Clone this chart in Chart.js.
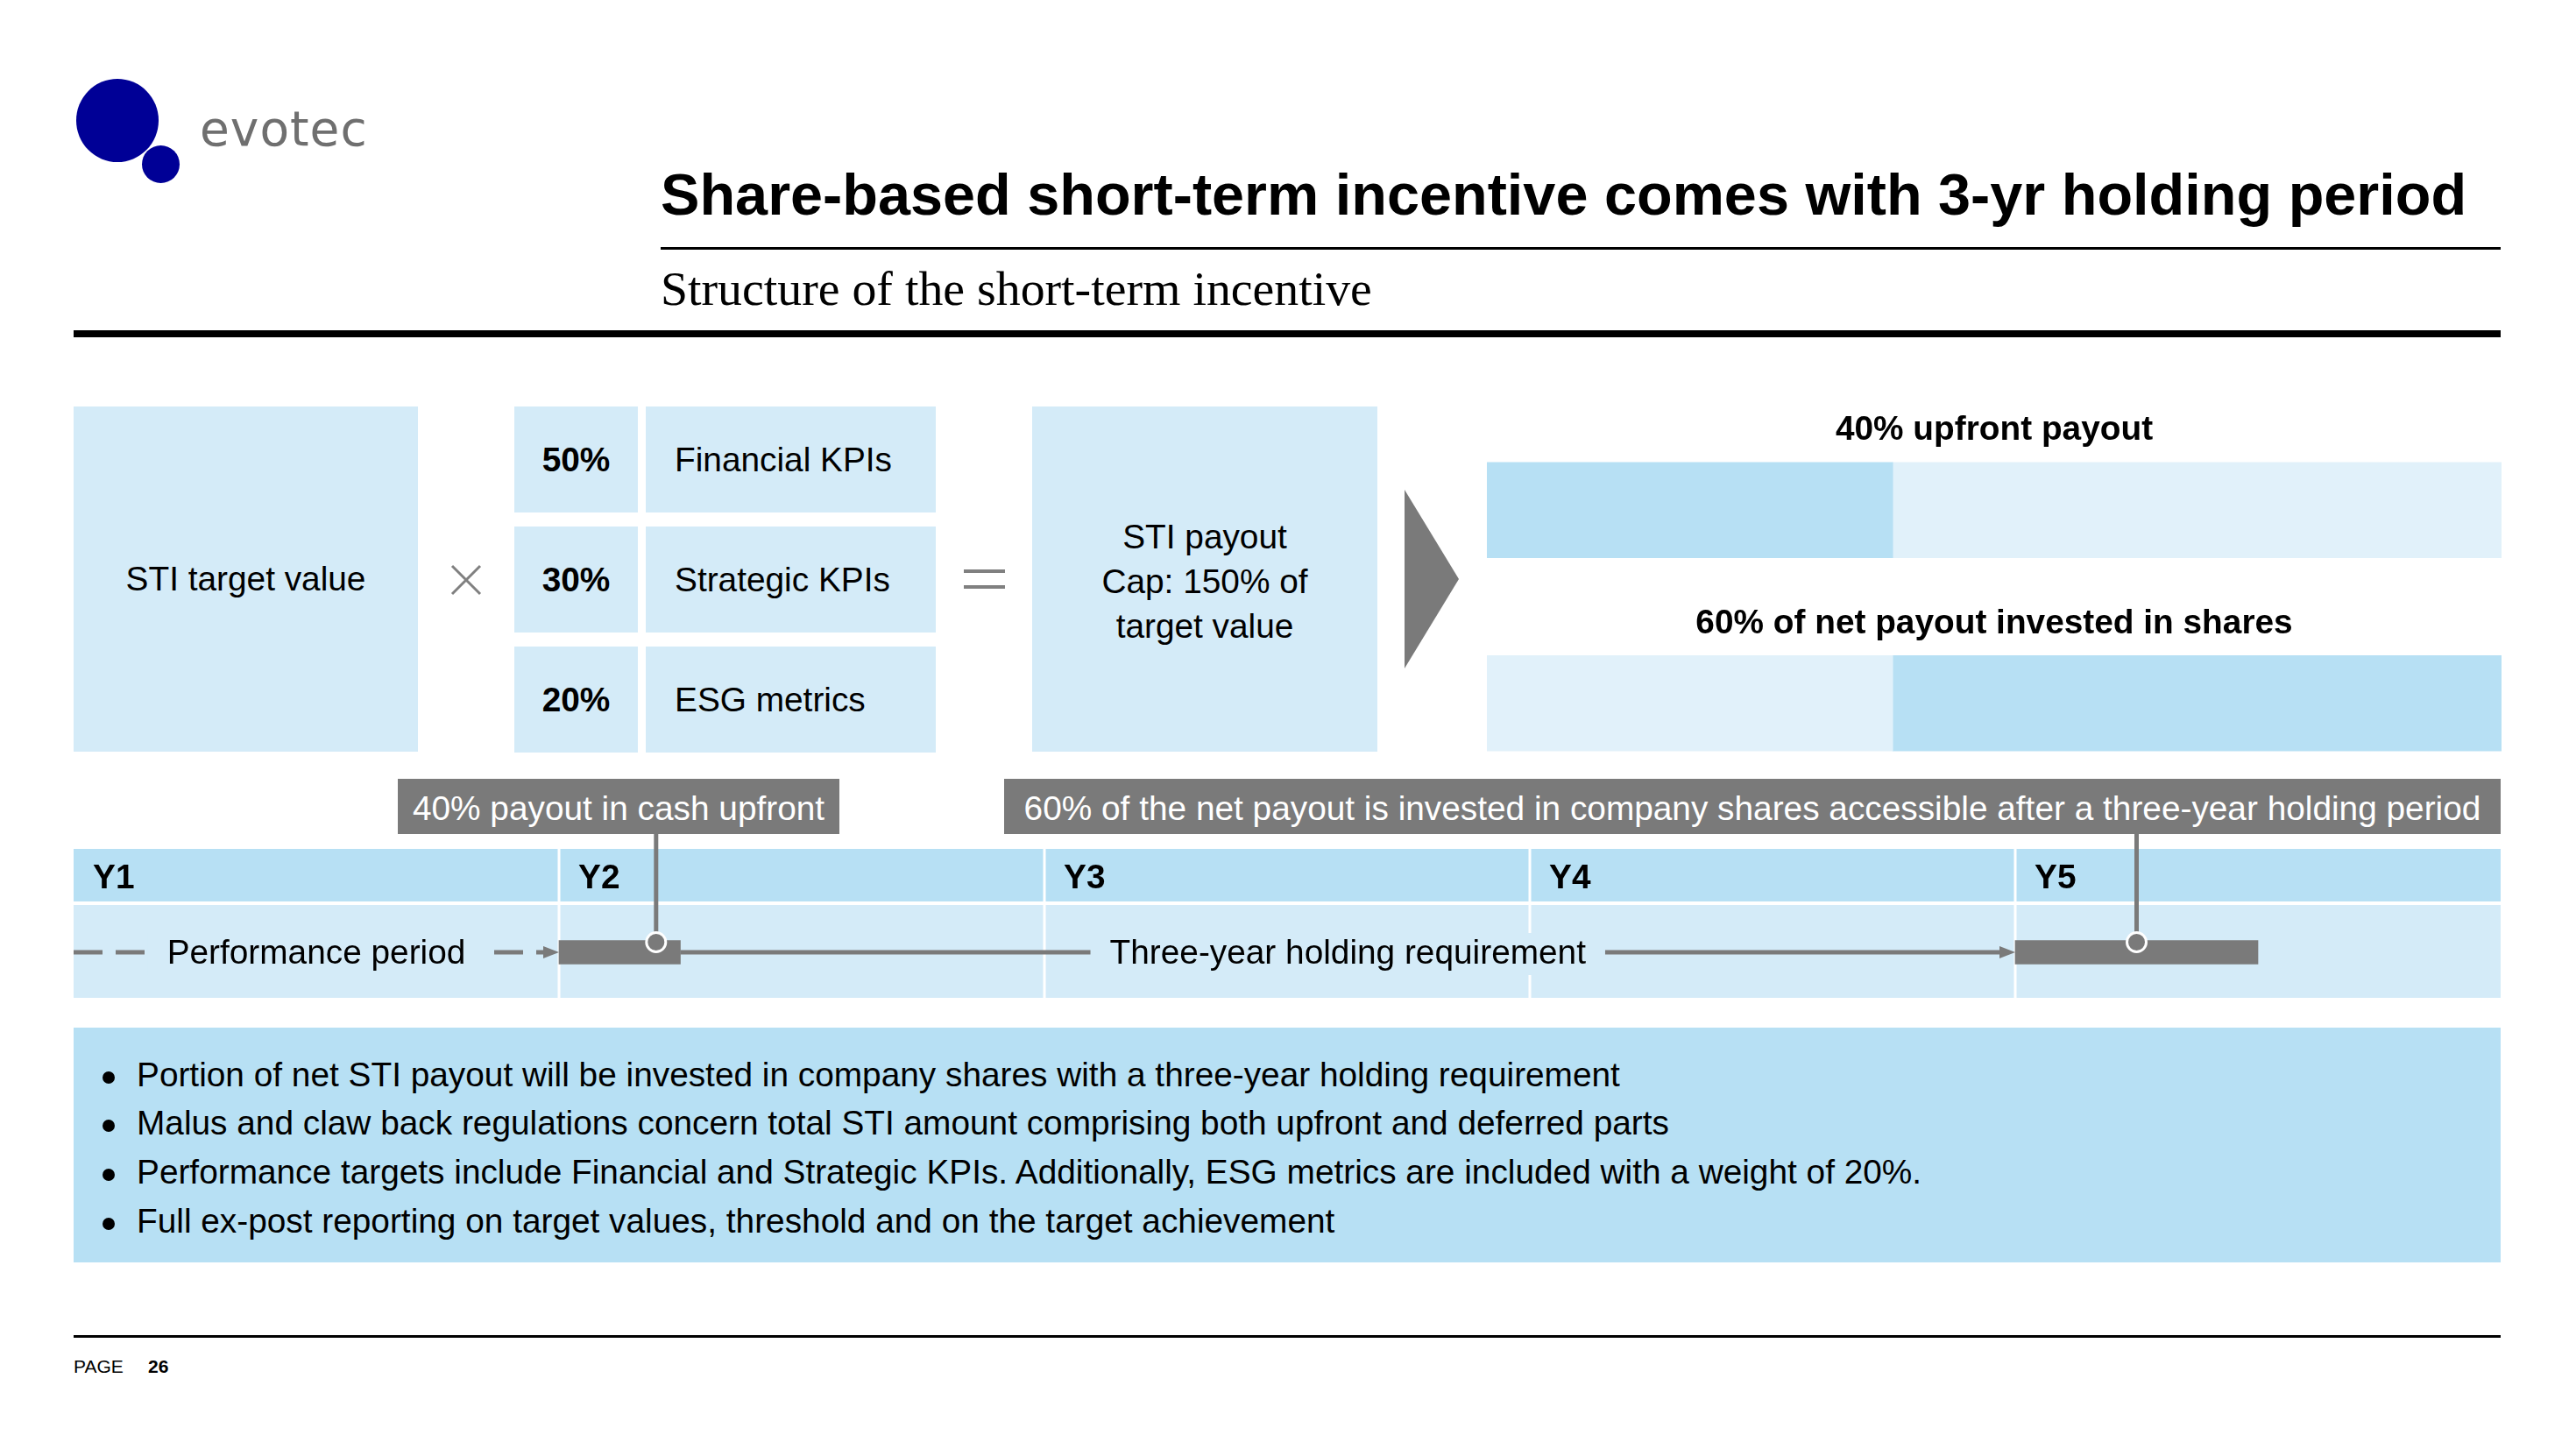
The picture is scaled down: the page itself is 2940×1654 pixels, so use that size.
<!DOCTYPE html>
<html>
<head>
<meta charset="utf-8">
<script src="https://cdn.jsdelivr.net/npm/chart.js@4.4.1/dist/chart.umd.min.js"></script>
<style>
  html, body { margin: 0; padding: 0; background: #fff; }
  body { width: 2940px; height: 1654px; position: relative; overflow: hidden; font-family: 'Liberation Sans', Arial, sans-serif; color: #000; }
  .abs { position: absolute; white-space: nowrap; }
  .box { position: absolute; background: #d4ebf8; display: flex; align-items: center; font-size: 38.8px; }
  .center { justify-content: center; text-align: center; }
  .callout { position: absolute; box-sizing: border-box; padding-top: 4px; background: #7a7a7a; color: #fff; font-size: 38.8px; display: flex; align-items: center; justify-content: center; white-space: nowrap; }
  .bullets { position: absolute; box-sizing: border-box; padding-top: 6px; left: 84px; top: 1173px; width: 2770px; height: 268px; background: #b7e0f4; display: flex; flex-direction: column; justify-content: center; }
  .bullets div { position: relative; padding-left: 72px; font-size: 38.8px; line-height: 55.7px; white-space: nowrap; }
  .bullets div::before { content: ''; position: absolute; left: 33px; top: 24px; width: 14px; height: 14px; border-radius: 50%; background: #000; }
  canvas { position: absolute; }
</style>
</head>
<body>

<!-- logo -->
<div class="abs" style="left:87px;top:90px;width:94px;height:95px;border-radius:50%;background:#000096;"></div>
<div class="abs" style="left:162px;top:166px;width:43px;height:43px;border-radius:50%;background:#000096;"></div>
<div class="abs" style="left:228px;top:120px;font-family:'DejaVu Sans',sans-serif;font-size:55px;line-height:55px;letter-spacing:1px;color:#6f6f6f;">evotec</div>

<!-- heading -->
<div class="abs" style="left:754px;top:189px;font-size:66.6px;line-height:66.6px;font-weight:bold;">Share-based short-term incentive comes with 3-yr holding period</div>
<div class="abs" style="left:754px;top:282px;width:2100px;height:3px;background:#000;"></div>
<div class="abs" style="left:754px;top:302px;font-family:'Liberation Serif',serif;font-size:55.8px;line-height:55.8px;">Structure of the short-term incentive</div>
<div class="abs" style="left:84px;top:377px;width:2770px;height:8px;background:#000;"></div>

<!-- formula row -->
<div class="box center" style="left:84px;top:464px;width:393px;height:394px;">STI target value</div>
<svg class="abs" style="left:514px;top:644px;" width="36" height="36"><path d="M2 2 L34 34 M34 2 L2 34" stroke="#808080" stroke-width="3"/></svg>
<div id="kpis"></div>
<div class="abs" style="left:1100px;top:650px;width:47px;height:4px;background:#808080;"></div>
<div class="abs" style="left:1100px;top:668px;width:47px;height:4px;background:#808080;"></div>
<div class="box center" style="left:1178px;top:464px;width:394px;height:394px;line-height:51px;padding-top:4px;box-sizing:border-box;">STI payout<br>Cap: 150% of<br>target value</div>
<div class="abs" style="left:1603px;top:559px;width:62px;height:204px;background:#7a7a7a;clip-path:polygon(0 0,100% 50%,0 100%);"></div>

<canvas id="split" width="1158" height="441" style="left:1697px;top:472px;"></canvas>

<!-- timeline -->
<canvas id="timeline" width="2770" height="187" style="left:84px;top:952px;"></canvas>
<div class="callout" style="left:454px;top:889px;width:504px;height:63px;">40% payout in cash upfront</div>
<div class="callout" style="left:1146px;top:889px;width:1708px;height:63px;">60% of the net payout is invested in company shares accessible after a three-year holding period</div>

<div class="bullets">
  <div>Portion of net STI payout will be invested in company shares with a three-year holding requirement</div>
  <div>Malus and claw back regulations concern total STI amount comprising both upfront and deferred parts</div>
  <div>Performance targets include Financial and Strategic KPIs. Additionally, ESG metrics are included with a weight of 20%.</div>
  <div>Full ex-post reporting on target values, threshold and on the target achievement</div>
</div>

<!-- footer -->
<div class="abs" style="left:84px;top:1524px;width:2770px;height:3px;background:#000;"></div>
<div class="abs" style="left:84px;top:1549px;font-size:21px;line-height:21px;">PAGE</div>
<div class="abs" style="left:169px;top:1549px;font-size:21px;line-height:21px;font-weight:bold;">26</div>

<script>
// KPI weights
const kpiNames = ['Financial KPIs', 'Strategic KPIs', 'ESG metrics'];
const kpiWeights = [50, 30, 20];

// payout split
const splitLabels = ['40% upfront payout', '60% of net payout invested in shares'];
const cashShare = [40, 40];
const sharesShare = [60, 60];

// timeline (in years from start of Y1)
const years = ['Y1', 'Y2', 'Y3', 'Y4', 'Y5'];
const performancePeriod = [0, 1];
const holdingPeriod = [1.25, 4];
const periodLabels = ['Performance period', 'Three-year holding requirement'];
const payoutBars = [[1, 1.25], [4, 4.5]];
const payoutMarkers = [1.2, 4.25];

const DARK = '#b7e0f4';
const BOX = '#d4ebf8';
const LIGHT = '#e1f1fa';
const GRAY = '#7a7a7a';
const FONT = '"Liberation Sans", Arial, sans-serif';

let html = '';
kpiNames.forEach((name, i) => {
  const top = 464 + i * 137;
  html += `<div class="box center" style="left:587px;top:${top}px;width:141px;height:121px;font-weight:bold;">${kpiWeights[i]}%</div>`;
  html += `<div class="box" style="left:737px;top:${top}px;width:298px;height:121px;padding-left:33px;">${name}</div>`;
});
document.getElementById('kpis').innerHTML = html;

const splitTitles = {
  id: 'splitTitles',
  afterDatasetsDraw(chart) {
    const { ctx, chartArea } = chart;
    const meta = chart.getDatasetMeta(0);
    ctx.save();
    ctx.font = 'bold 38.8px ' + FONT;
    ctx.fillStyle = '#000';
    ctx.textAlign = 'center';
    ctx.textBaseline = 'middle';
    const cx = (chartArea.left + chartArea.right) / 2;
    splitLabels.forEach((t, i) => {
      const bar = meta.data[i];
      ctx.fillText(t, cx, bar.y - bar.height / 2 - 36);
    });
    ctx.restore();
  },
};

new Chart(document.getElementById('split'), {
  type: 'bar',
  data: {
    labels: splitLabels,
    datasets: [
      { label: 'Upfront cash', data: cashShare, backgroundColor: [DARK, LIGHT], borderWidth: 0 },
      { label: 'Invested in shares', data: sharesShare, backgroundColor: [LIGHT, DARK], borderWidth: 0 },
    ],
  },
  options: {
    indexAxis: 'y',
    responsive: false,
    animation: false,
    devicePixelRatio: 1,
    datasets: { bar: { barThickness: 109 } },
    scales: {
      x: { stacked: true, display: false, min: 0, max: 100 },
      y: { stacked: true, display: false },
    },
    plugins: { legend: { display: false }, tooltip: { enabled: false } },
  },
  plugins: [splitTitles],
});

function arrowHead(ctx, x, y) {
  ctx.beginPath();
  ctx.moveTo(x, y);
  ctx.lineTo(x - 18, y - 7);
  ctx.lineTo(x - 18, y + 7);
  ctx.closePath();
  ctx.fill();
}

function periodLabel(ctx, text, x, y) {
  const w = ctx.measureText(text).width + 44;
  ctx.fillStyle = BOX;
  ctx.fillRect(x - w / 2, y - 24, w, 48);
  ctx.fillStyle = '#000';
  ctx.fillText(text, x, y);
}

const timelinePlugin = {
  id: 'timelinePlugin',
  beforeDatasetsDraw(chart) {
    const { ctx } = chart;
    const x = chart.scales.x;
    const yc = chart.getDatasetMeta(0).data[0].y;
    ctx.save();
    ctx.fillStyle = DARK;
    ctx.fillRect(x.left, 17, x.width, 60);
    ctx.fillStyle = BOX;
    ctx.fillRect(x.left, 81, x.width, 106);
    ctx.fillStyle = '#fff';
    for (let i = 1; i < years.length; i++) {
      ctx.fillRect(Math.round(x.getPixelForValue(i)) - 1.5, 17, 3, 170);
    }
    ctx.font = 'bold 38.8px ' + FONT;
    ctx.fillStyle = '#000';
    ctx.textBaseline = 'middle';
    years.forEach((yr, i) => ctx.fillText(yr, x.getPixelForValue(i) + 22, 51));

    ctx.strokeStyle = GRAY;
    ctx.fillStyle = GRAY;
    ctx.lineWidth = 5;
    ctx.setLineDash([33, 15]);
    ctx.beginPath();
    ctx.moveTo(x.getPixelForValue(performancePeriod[0]), yc);
    ctx.lineTo(x.getPixelForValue(performancePeriod[1]) - 16, yc);
    ctx.stroke();
    arrowHead(ctx, x.getPixelForValue(performancePeriod[1]), yc);
    ctx.setLineDash([]);
    ctx.beginPath();
    ctx.moveTo(x.getPixelForValue(holdingPeriod[0]), yc);
    ctx.lineTo(x.getPixelForValue(holdingPeriod[1]) - 16, yc);
    ctx.stroke();
    arrowHead(ctx, x.getPixelForValue(holdingPeriod[1]), yc);

    ctx.font = '38.8px ' + FONT;
    ctx.textAlign = 'center';
    [performancePeriod, holdingPeriod].forEach((p, i) => {
      periodLabel(ctx, periodLabels[i], x.getPixelForValue((p[0] + p[1]) / 2), yc + 2);
    });
    ctx.restore();
  },
  afterDatasetsDraw(chart) {
    const { ctx } = chart;
    const x = chart.scales.x;
    const bar = chart.getDatasetMeta(0).data[0];
    const cy = bar.y - bar.height / 2 + 2;
    ctx.save();
    payoutMarkers.forEach(m => {
      const px = x.getPixelForValue(m);
      ctx.strokeStyle = GRAY;
      ctx.lineWidth = 5;
      ctx.beginPath();
      ctx.moveTo(px, 0);
      ctx.lineTo(px, cy - 10);
      ctx.stroke();
      ctx.beginPath();
      ctx.arc(px, cy, 11, 0, Math.PI * 2);
      ctx.fillStyle = GRAY;
      ctx.fill();
      ctx.strokeStyle = '#fff';
      ctx.lineWidth = 3;
      ctx.stroke();
    });
    ctx.restore();
  },
};

new Chart(document.getElementById('timeline'), {
  type: 'bar',
  data: {
    labels: ['STI'],
    datasets: [
      { label: 'Cash payout', data: [payoutBars[0]], backgroundColor: GRAY, borderWidth: 0 },
      { label: 'Shares accessible', data: [payoutBars[1]], backgroundColor: GRAY, borderWidth: 0 },
    ],
  },
  options: {
    indexAxis: 'y',
    responsive: false,
    animation: false,
    devicePixelRatio: 1,
    layout: { padding: { top: 83 } },
    datasets: { bar: { barThickness: 27, grouped: false } },
    scales: {
      x: { type: 'linear', min: 0, max: 5, display: false },
      y: { display: false },
    },
    plugins: { legend: { display: false }, tooltip: { enabled: false } },
  },
  plugins: [timelinePlugin],
});
</script>
</body>
</html>
